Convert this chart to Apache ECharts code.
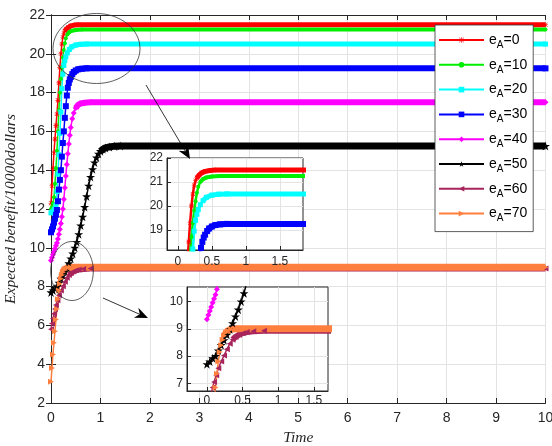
<!DOCTYPE html>
<html>
<head>
<meta charset="utf-8">
<script src="https://cdn.jsdelivr.net/npm/echarts@6/dist/echarts.min.js"></script>
<style>
html,body{margin:0;padding:0;background:#fff}
#chart{width:552px;height:446px}
</style>
</head>
<body>
<div id="chart"></div>
<script>
// Expected benefit over time for several values of e_A
const eA = [0, 10, 20, 30, 40, 50, 60, 70];

// Axis ticks
const timeTicks = [0, 1, 2, 3, 4, 5, 6, 7, 8, 9, 10];
const benefitTicks = [2, 4, 6, 8, 10, 12, 14, 16, 18, 20, 22];
const zoomTimeTicks = [0, 0.5, 1, 1.5];
const zoomUpperTicks = [19, 20, 21, 22];
const zoomLowerTicks = [7, 8, 9, 10];

// Steady-state benefit of each curve (held up to t = 10)
const steady = [21.5, 21.25, 20.5, 19.25, 17.5, 15.25, 8.93, 9.0];

// Transient part of each curve: [time, benefit]
const rise0 = [[0,12.3],[0.02,13.2],[0.04,14.1],[0.06,14.9],[0.08,15.6],[0.1,16.3],[0.12,16.9],[0.14,17.6],[0.16,18.5],[0.18,19.3],[0.2,20.0],[0.22,20.5],[0.24,20.85],[0.26,21.05],[0.28,21.17],[0.31,21.28],[0.35,21.38],[0.4,21.44],[0.47,21.48],[0.55,21.5]];
const rise10 = [[0,12.0],[0.02,12.1],[0.04,12.3],[0.06,12.6],[0.08,13.3],[0.1,14.1],[0.12,15.0],[0.14,16.0],[0.16,17.1],[0.18,18.0],[0.2,18.7],[0.22,19.3],[0.24,19.8],[0.26,20.2],[0.28,20.55],[0.3,20.8],[0.33,21.0],[0.37,21.12],[0.42,21.19],[0.5,21.23],[0.62,21.25]];
const rise20 = [[0,11.8],[0.03,11.85],[0.06,11.95],[0.08,12.0],[0.1,12.2],[0.12,12.9],[0.14,13.8],[0.16,14.8],[0.18,15.9],[0.2,17.0],[0.22,18.2],[0.24,18.95],[0.26,19.4],[0.28,19.65],[0.3,19.85],[0.33,20.05],[0.37,20.22],[0.42,20.36],[0.5,20.45],[0.6,20.49],[0.72,20.5]];
const rise30 = [[0,10.8],[0.02,10.95],[0.04,11.1],[0.06,11.3],[0.08,11.5],[0.1,11.7],[0.12,11.95],[0.14,12.4],[0.16,13.0],[0.18,13.5],[0.2,14.0],[0.22,14.7],[0.24,15.4],[0.26,16.0],[0.28,16.7],[0.3,17.3],[0.32,17.85],[0.34,18.25],[0.36,18.5],[0.38,18.68],[0.4,18.8],[0.43,18.95],[0.46,19.06],[0.5,19.14],[0.55,19.2],[0.62,19.23],[0.72,19.25]];
const rise40 = [[0,9.35],[0.02,9.5],[0.04,9.65],[0.06,9.8],[0.08,9.95],[0.1,10.1],[0.12,10.25],[0.14,10.45],[0.16,10.7],[0.18,10.95],[0.2,11.25],[0.22,11.6],[0.24,12.0],[0.26,12.5],[0.28,13.1],[0.3,13.7],[0.32,14.3],[0.34,14.85],[0.36,15.35],[0.38,15.8],[0.4,16.2],[0.43,16.65],[0.46,16.95],[0.5,17.2],[0.55,17.37],[0.6,17.44],[0.68,17.48],[0.8,17.5]];
const rise50 = [[0,7.7],[0.04,7.8],[0.08,7.92],[0.12,8.0],[0.16,8.2],[0.2,8.4],[0.24,8.58],[0.28,8.78],[0.32,8.98],[0.36,9.2],[0.4,9.45],[0.44,9.7],[0.48,10.0],[0.52,10.3],[0.56,10.7],[0.6,11.15],[0.64,11.6],[0.68,12.1],[0.72,12.65],[0.76,13.2],[0.8,13.65],[0.84,14.05],[0.88,14.4],[0.92,14.65],[0.96,14.85],[1.0,14.98],[1.05,15.08],[1.1,15.15],[1.18,15.2],[1.28,15.24],[1.4,15.25]];
const rise60 = [[0,5.8],[0.02,6.1],[0.04,6.35],[0.06,6.6],[0.08,6.85],[0.1,7.05],[0.13,7.3],[0.16,7.55],[0.2,7.8],[0.24,8.02],[0.28,8.25],[0.32,8.45],[0.36,8.6],[0.4,8.7],[0.45,8.78],[0.5,8.84],[0.56,8.88],[0.65,8.91],[0.8,8.93]];
const rise70 = [[0,3.1],[0.02,3.8],[0.04,4.5],[0.06,5.1],[0.08,5.7],[0.1,6.3],[0.12,6.85],[0.14,7.35],[0.16,7.8],[0.18,8.15],[0.2,8.4],[0.22,8.6],[0.24,8.74],[0.27,8.86],[0.3,8.93],[0.34,8.98],[0.4,9.0]];

const rises = [rise0, rise10, rise20, rise30, rise40, rise50, rise60, rise70];

// Styling
const colors = ['#ff0000', '#00ee00', '#00ffff', '#0000ff', '#ff00ff', '#000000', '#a8245c', '#ff7f3f'];
const asterisk = 'path://M4.4 0H5.6V10H4.4Z M0 4.4H10V5.6H0Z M1.2 0.4L9.6 8.8L8.8 9.6L0.4 1.2Z M8.8 0.4L9.6 1.2L1.2 9.6L0.4 8.8Z';
const star = 'path://M50 0L61.8 35.4L99 35.4L69.1 57.3L80.9 92.7L50 70.8L19.1 92.7L30.9 57.3L1 35.4L38.2 35.4Z';
const symbols = [asterisk, 'circle', 'rect', 'rect', 'diamond', star, 'triangle', 'triangle'];
const symbolSizes = [5, 4, 5, 6, 6, 9, 6, 6];
const symbolRotates = [0, 0, 0, 0, 0, 0, 90, -90];
const bandWidths = [5, 4, 5, 6, 6, 7, 6, 7];
const bandGap = 0.35;

const axisColor = '#262626';
const gridColor = '#e3e3e3';
const sansFont = 'Liberation Sans, Arial, Helvetica, sans-serif';

function seriesName(i) { return 'eA=' + eA[i]; }

function curveSeries(i, xIdx, yIdx, z, lineW, withName) {
  const data = rises[i].concat([[10, steady[i]]]);
  const band = rises[i].filter(p => Math.abs(steady[i] - p[1]) <= bandGap).concat([[10, steady[i]]]);
  return [
    {
      type: 'line',
      xAxisIndex: xIdx, yAxisIndex: yIdx, z: z,
      data: band,
      symbol: 'none',
      lineStyle: { color: colors[i], width: bandWidths[i] },
      itemStyle: { color: colors[i] },
      silent: true
    },
    {
      type: 'line',
      name: withName ? seriesName(i) : undefined,
      xAxisIndex: xIdx, yAxisIndex: yIdx, z: z,
      data: data,
      showSymbol: true, showAllSymbol: true,
      symbol: symbols[i], symbolSize: symbolSizes[i], symbolRotate: symbolRotates[i],
      lineStyle: { color: colors[i], width: lineW },
      itemStyle: { color: colors[i] },
      silent: true
    }
  ];
}

const series = [];
for (let i = 0; i < eA.length; i++) series.push(...curveSeries(i, 0, 0, 2, 1.5, true));
for (let i = 0; i < 4; i++) series.push(...curveSeries(i, 2, 2, 12, 2.5, false));
for (let i = 4; i < 8; i++) series.push(...curveSeries(i, 3, 3, 12, 1.5, false));

function mainAxisCommon() {
  return {
    type: 'value',
    axisLine: { show: true, lineStyle: { color: axisColor, width: 1 } },
    axisTick: { show: true, inside: true, length: 5, lineStyle: { color: axisColor } },
    axisLabel: { color: axisColor, fontSize: 14, fontFamily: sansFont },
    splitLine: { show: false }
  };
}

function insetAxis(min, max, ticks, gridIndex, margin) {
  return {
    type: 'value', gridIndex: gridIndex, min: min, max: max, z: 11,
    axisLine: { show: true, onZero: false, lineStyle: { color: axisColor, width: 1 } },
    axisTick: { show: true, inside: true, length: 4, customValues: ticks, lineStyle: { color: axisColor } },
    axisLabel: { color: axisColor, fontSize: 12, fontFamily: sansFont, customValues: ticks, margin: margin },
    splitLine: { show: true, lineStyle: { color: gridColor, width: 1 } }
  };
}

// Zoom ellipses and arrows
function arrow(x1, y1, x2, y2) {
  const dx = x2 - x1, dy = y2 - y1, L = Math.hypot(dx, dy);
  const ux = dx / L, uy = dy / L, nx = -uy, ny = ux;
  const hl = 13, hw = 5.5, notch = 4;
  const bx = x2 - ux * hl, by = y2 - uy * hl;
  const mx = x2 - ux * (hl - notch), my = y2 - uy * (hl - notch);
  return [
    { type: 'line', z: 30, shape: { x1: x1, y1: y1, x2: mx, y2: my }, style: { stroke: '#000', lineWidth: 0.8 } },
    { type: 'polygon', z: 30, shape: { points: [[x2, y2], [bx + nx * hw, by + ny * hw], [mx, my], [bx - nx * hw, by - ny * hw]] }, style: { fill: '#000' } }
  ];
}

const graphics = [
  { type: 'ellipse', z: 30, shape: { cx: 96.5, cy: 48.5, rx: 43.5, ry: 35 }, style: { fill: 'none', stroke: '#333', lineWidth: 0.8 } },
  { type: 'ellipse', z: 30, shape: { cx: 72, cy: 271, rx: 21.3, ry: 29.5 }, style: { fill: 'none', stroke: '#333', lineWidth: 0.8 } }
].concat(arrow(146, 85, 190, 159)).concat(arrow(103, 298, 148, 318));

const chart = echarts.init(document.getElementById('chart'), null, { renderer: 'canvas' });
chart.setOption({
  animation: false,
  backgroundColor: '#fff',
  grid: [
    { left: 51, right: 6.5, top: 15, bottom: 43, show: false, outerBoundsMode: 'none', containLabel: false },
    { left: 167, top: 158, width: 136, height: 92, show: true, backgroundColor: '#fff', borderColor: axisColor, borderWidth: 1, z: 10, outerBoundsMode: 'none', containLabel: false },
    { left: 187, top: 287, width: 141, height: 104, show: true, backgroundColor: '#fff', borderColor: axisColor, borderWidth: 1, z: 10, outerBoundsMode: 'none', containLabel: false }
  ],
  xAxis: [
    Object.assign(mainAxisCommon(), {
      gridIndex: 0, position: 'bottom', min: timeTicks[0], max: timeTicks[timeTicks.length - 1], interval: 1,
      name: 'Time', nameLocation: 'middle', nameGap: 26,
      nameTextStyle: { fontFamily: 'Liberation Serif, serif', fontStyle: 'italic', fontSize: 15.5, color: axisColor },
      axisLabel: { color: axisColor, fontSize: 14, fontFamily: sansFont, margin: 8 },
      splitLine: { show: true, lineStyle: { color: gridColor, width: 1 } }
    }),
    Object.assign(mainAxisCommon(), {
      gridIndex: 0, position: 'top', min: timeTicks[0], max: timeTicks[timeTicks.length - 1], interval: 1,
      axisLabel: { show: false }
    }),
    insetAxis(-0.16, 1.84, zoomTimeTicks, 1, 6),
    insetAxis(-0.28, 1.7, zoomTimeTicks, 2, 4)
  ],
  yAxis: [
    Object.assign(mainAxisCommon(), {
      gridIndex: 0, position: 'left', min: benefitTicks[0], max: benefitTicks[benefitTicks.length - 1], interval: 2,
      name: 'Expected benefit/10000dollars', nameLocation: 'middle', nameGap: 26, nameRotate: 90,
      nameTextStyle: { fontFamily: 'Liberation Serif, serif', fontStyle: 'italic', fontSize: 15.5, color: axisColor },
      axisLabel: { color: axisColor, fontSize: 14, fontFamily: sansFont, margin: 6 },
      splitLine: { show: true, lineStyle: { color: gridColor, width: 1 } }
    }),
    Object.assign(mainAxisCommon(), {
      gridIndex: 0, position: 'right', min: benefitTicks[0], max: benefitTicks[benefitTicks.length - 1], interval: 2,
      axisLabel: { show: false }
    }),
    insetAxis(18.16, 22, zoomUpperTicks, 1, 4),
    insetAxis(6.72, 10.53, zoomLowerTicks, 2, 4)
  ],
  legend: {
    orient: 'vertical', left: 435, top: 25,
    padding: [8, 6, 8, 3], itemGap: 7.8, itemWidth: 45, itemHeight: 7,
    backgroundColor: '#fff', borderColor: '#333', borderWidth: 0.8, z: 20,
    data: eA.map((v, i) => seriesName(i)),
    formatter: function (name) {
      return '{e|e}{a|A}{e|=' + name.slice(3) + '}';
    },
    textStyle: {
      rich: {
        e: { fontSize: 14, lineHeight: 20, fontFamily: sansFont, color: '#000' },
        a: { fontSize: 10, lineHeight: 10, verticalAlign: 'bottom', fontFamily: sansFont, color: '#000' }
      }
    }
  },
  graphic: graphics,
  series: series
});
</script>
</body>
</html>
